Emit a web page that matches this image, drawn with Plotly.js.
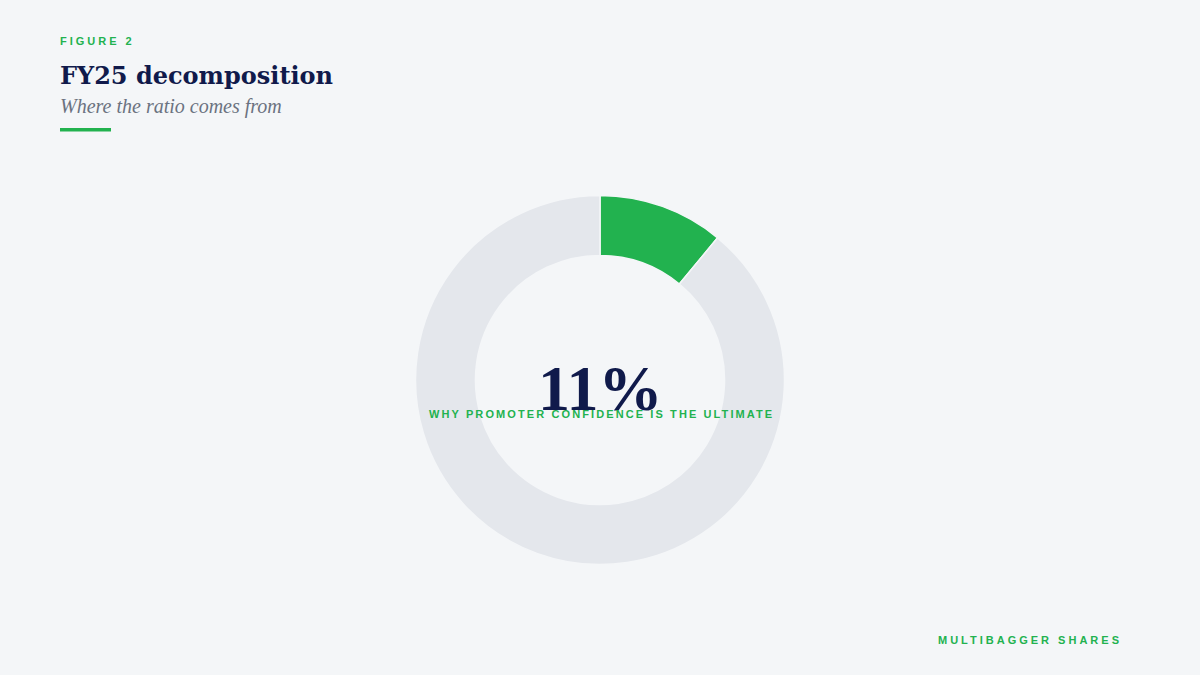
<!DOCTYPE html>
<html>
<head>
<meta charset="utf-8">
<script src="https://cdn.plot.ly/plotly-3.0.1.min.js"></script>
<style>
  html, body { margin: 0; padding: 0; background: #f4f6f8; }
  #chart { width: 1200px; height: 675px; }
  g.annotation[data-index="0"] text { letter-spacing: 3px; }
  g.annotation[data-index="4"] text { letter-spacing: 2.1px; }
  g.annotation[data-index="5"] text { letter-spacing: 3px; }
</style>
</head>
<body>
<div id="chart"></div>
<script>
// FY25 split of the ratio
const sliceLabels = ['Promoter', 'Rest'];
const sliceValues = [11, 89];
const sliceColors = ['#22b24f', '#e4e7ec'];
const centerValue = '11%';

const W = 1200, H = 675;
const px = x => x / W;
const py = y => 1 - y / H;

const serif = "Georgia, 'Liberation Serif', 'DejaVu Serif', serif";
const wideSerif = "Georgia, 'DejaVu Serif', serif";
const sans = "Arial, 'Liberation Sans', Helvetica, sans-serif";
const navy = '#101a4b';
const green = '#22b24f';

const data = [{
  type: 'pie',
  labels: sliceLabels,
  values: sliceValues,
  hole: 0.675,
  sort: false,
  direction: 'clockwise',
  rotation: 0,
  textinfo: 'none',
  hoverinfo: 'label+percent',
  marker: { colors: sliceColors, line: { color: '#f4f6f8', width: 1.5 } },
  domain: { x: [0, 1], y: [py(380 + 184.5), py(380 - 184.5)] },
  showlegend: false
}];

const layout = {
  width: W, height: H,
  margin: { l: 0, r: 0, t: 0, b: 0 },
  paper_bgcolor: '#f4f6f8',
  plot_bgcolor: '#f4f6f8',
  showlegend: false,
  shapes: [{
    type: 'rect', xref: 'paper', yref: 'paper',
    x0: px(60), x1: px(111), y0: py(131.5), y1: py(128),
    fillcolor: green, line: { width: 0 }
  }],
  annotations: [
    { text: 'FIGURE 2', xref: 'paper', yref: 'paper', x: px(58), y: py(41),
      xanchor: 'left', yanchor: 'middle', showarrow: false, align: 'left',
      font: { family: sans, size: 11, color: green, weight: 700 } },
    { text: 'FY25 decomposition', xref: 'paper', yref: 'paper', x: px(58), y: py(75),
      xanchor: 'left', yanchor: 'middle', showarrow: false, align: 'left',
      font: { family: wideSerif, size: 24, color: navy, weight: 700 } },
    { text: 'Where the ratio comes from', xref: 'paper', yref: 'paper', x: px(58), y: py(106),
      xanchor: 'left', yanchor: 'middle', showarrow: false, align: 'left',
      font: { family: serif, size: 20, color: '#6b7280', style: 'italic' } },
    { text: centerValue, xref: 'paper', yref: 'paper', x: px(600), y: py(388),
      xanchor: 'center', yanchor: 'middle', showarrow: false,
      font: { family: serif, size: 64, color: navy, weight: 700 } },
    { text: 'WHY PROMOTER CONFIDENCE IS THE ULTIMATE', xref: 'paper', yref: 'paper', x: px(427), y: py(414),
      xanchor: 'left', yanchor: 'middle', showarrow: false, align: 'left',
      font: { family: sans, size: 11, color: green, weight: 700 } },
    { text: 'MULTIBAGGER SHARES', xref: 'paper', yref: 'paper', x: px(936), y: py(640),
      xanchor: 'left', yanchor: 'middle', showarrow: false, align: 'left',
      font: { family: sans, size: 11, color: green, weight: 700 } }
  ]
};

Plotly.newPlot('chart', data, layout, { displayModeBar: false, staticPlot: true });
</script>
</body>
</html>
